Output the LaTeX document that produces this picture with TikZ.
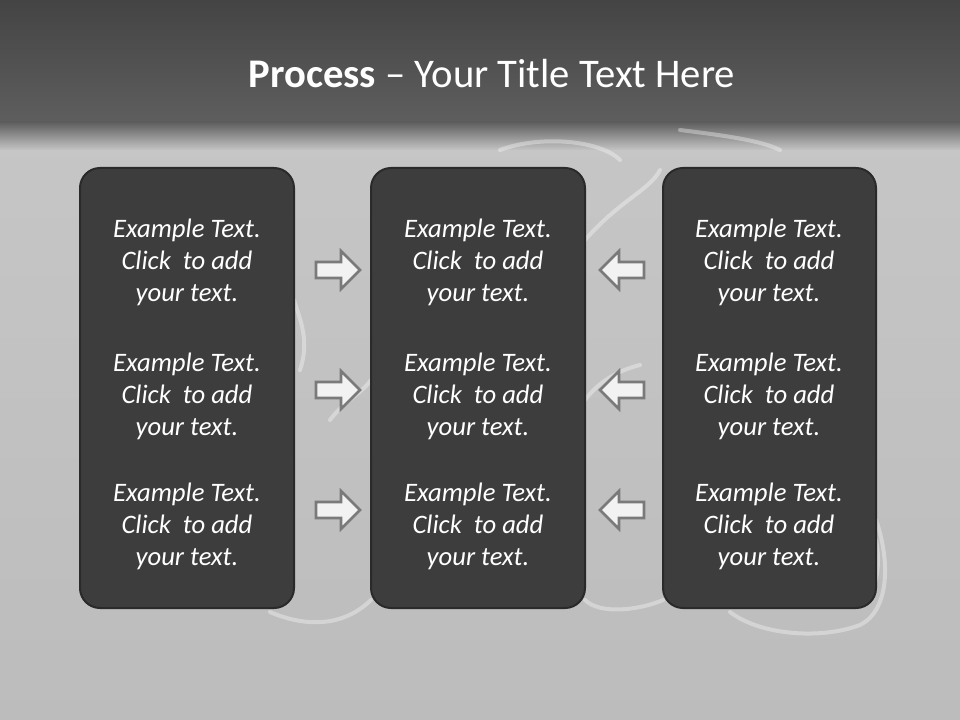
\documentclass[tikz,border=0pt]{standalone}
\usepackage{fontspec}
\setmainfont{Carlito}
\usetikzlibrary{calc}
\definecolor{boxfill}{HTML}{3D3D3D}
\definecolor{boxline}{HTML}{2A2A2A}
\definecolor{arrfill}{HTML}{F2F2F2}
\definecolor{arrline}{HTML}{7A7A7A}
\definecolor{bgtop}{HTML}{444444}
\definecolor{bgband}{HTML}{5E5E5E}
\definecolor{bgbody}{HTML}{C4C4C4}
\tikzset{
  panel/.style={draw=boxline, line width=1.5pt, fill=boxfill, rounded corners=15pt},
  txt/.style={text=white, font=\fontsize{20}{24}\selectfont\itshape, align=center},
  arr/.style={draw=arrline, fill=arrfill, line width=2pt, line join=miter},
  chalk/.style={draw=white, opacity=0.35, line width=3pt, line cap=round}
}
\newcommand{\exampletext}{Example Text.\\Click\ \ to add\\your text.}
\begin{document}
\begin{tikzpicture}[x=0.75pt,y=-0.75pt]
\useasboundingbox (0,0) rectangle (960,720);
% background
\fill[bgbody] (0,0) rectangle (960,720);
\shade[top color=bgbody!97!white, bottom color=bgbody!96!black] (0,140) rectangle (960,720);
\shade[top color=bgtop, bottom color=bgband] (0,0) rectangle (960,122);
\shade[top color=bgband, bottom color=bgbody] (0,122) rectangle (960,150);
% chalk scribbles
\draw[chalk] (500,150) .. controls (540,135) and (600,140) .. (620,160);
\draw[chalk] (680,130) .. controls (720,135) and (760,140) .. (780,150);
\draw[chalk] (585,240) .. controls (620,200) and (650,190) .. (660,170);
\draw[chalk] (294,300) .. controls (300,320) and (310,340) .. (300,370);
\draw[chalk] (330,420) .. controls (345,400) and (360,395) .. (371,380);
\draw[chalk] (585,400) .. controls (600,380) and (620,370) .. (640,365);
\draw[chalk] (270,612) .. controls (300,625) and (340,630) .. (371,600);
\draw[chalk] (585,600) .. controls (600,615) and (640,610) .. (663,600);
\draw[chalk] (876,520) .. controls (890,560) and (890,610) .. (860,625)
  .. controls (820,640) and (760,635) .. (730,612);
\draw[chalk] (876,540) .. controls (880,560) and (878,580) .. (870,595);
% title
\node (title) at (492,74) {\fontsize{30.5}{36}\selectfont\color{white}\textbf{Process} – Your Title Text Here};
% panels
\draw[panel] (80,168) rectangle (294,608);
\draw[panel] (371,168) rectangle (585,608);
\draw[panel] (663,168) rectangle (876,608);
\coordinate (p1) at (187,0);
\coordinate (p2) at (478,0);
\coordinate (p3) at (769,0);
\foreach \p [count=\i] in {p1,p2,p3}{
  \foreach \yy [count=\j] in {262,396,526}{
    \node[txt] (t\i\j) at ($(\p)+(0,\yy)$) {\exampletext};
  }
}
% arrows
\foreach \yy in {270,390,510}{
  \draw[arr] (316,\yy-8) -- (341,\yy-8) -- (341,\yy-19) -- (360,\yy) -- (341,\yy+19) -- (341,\yy+8) -- (316,\yy+8) -- cycle;
  \draw[arr] (644,\yy-8) -- (619,\yy-8) -- (619,\yy-19) -- (600,\yy) -- (619,\yy+19) -- (619,\yy+8) -- (644,\yy+8) -- cycle;
}
\end{tikzpicture}
\end{document}
